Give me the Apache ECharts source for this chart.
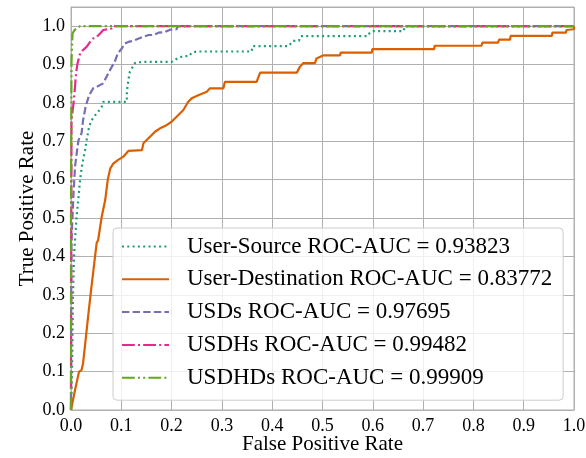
<!DOCTYPE html>
<html>
<head>
<meta charset="utf-8">
<script src="https://cdn.jsdelivr.net/npm/echarts@6/dist/echarts.min.js"></script>
<style>html,body{margin:0;padding:0;background:#fff}#c{width:586px;height:458px}</style>
</head>
<body>
<div id="c"></div>
<script>
const seriesNames = [
  'User-Source ROC-AUC = 0.93823',
  'User-Destination ROC-AUC = 0.83772',
  'USDs ROC-AUC = 0.97695',
  'USDHs ROC-AUC = 0.99482',
  'USDHDs ROC-AUC = 0.99909'
];
const xTicks = [0.0,0.1,0.2,0.3,0.4,0.5,0.6,0.7,0.8,0.9,1.0];
const yTicks = [0.0,0.1,0.2,0.3,0.4,0.5,0.6,0.7,0.8,0.9,1.0];

const userSource = [
  [0,0],[0.002,0.1],[0.004,0.3],[0.006,0.40],[0.008,0.443],[0.011,0.503],[0.015,0.555],[0.018,0.599],
  [0.022,0.638],[0.028,0.677],[0.031,0.703],[0.036,0.738],[0.041,0.755],[0.048,0.768],[0.054,0.777],
  [0.061,0.790],[0.064,0.803],[0.111,0.803],[0.111,0.829],[0.114,0.859],[0.117,0.881],[0.127,0.904],
  [0.141,0.907],[0.200,0.907],[0.213,0.917],[0.223,0.922],[0.235,0.922],[0.240,0.931],[0.250,0.934],
  [0.359,0.934],[0.361,0.948],[0.432,0.948],[0.442,0.962],[0.453,0.962],[0.457,0.974],[0.590,0.974],
  [0.594,0.983],[0.601,0.987],[0.661,0.987],[0.664,1.0],[1.0,1.0]
];
const userDest = [
  [0,0],[0.008,0.052],[0.016,0.10],[0.021,0.104],[0.024,0.122],[0.029,0.182],[0.034,0.243],[0.040,0.313],
  [0.047,0.391],[0.051,0.435],[0.054,0.443],[0.061,0.503],[0.068,0.547],[0.073,0.599],[0.078,0.629],
  [0.084,0.642],[0.093,0.651],[0.104,0.660],[0.114,0.675],[0.141,0.677],[0.144,0.695],[0.157,0.712],
  [0.167,0.725],[0.177,0.734],[0.190,0.742],[0.200,0.751],[0.210,0.764],[0.223,0.781],[0.233,0.803],
  [0.240,0.812],[0.253,0.820],[0.270,0.829],[0.276,0.838],[0.303,0.838],[0.306,0.855],[0.369,0.855],
  [0.376,0.879],[0.449,0.879],[0.455,0.894],[0.462,0.904],[0.485,0.904],[0.488,0.916],[0.502,0.924],
  [0.535,0.924],[0.536,0.931],[0.598,0.931],[0.599,0.940],[0.722,0.940],[0.723,0.949],[0.816,0.949],
  [0.818,0.957],[0.849,0.957],[0.851,0.965],[0.873,0.965],[0.874,0.975],[0.956,0.975],[0.957,0.983],
  [0.984,0.983],[0.985,0.990],[1.0,0.992],[1.0,1.0]
];
const usds = [
  [0,0],[0.0005,0.3],[0.001,0.443],[0.005,0.565],[0.008,0.634],[0.013,0.686],[0.015,0.703],[0.021,0.721],
  [0.024,0.755],[0.029,0.790],[0.031,0.794],[0.036,0.820],[0.044,0.838],[0.051,0.842],[0.064,0.851],
  [0.074,0.877],[0.081,0.894],[0.087,0.907],[0.093,0.929],[0.101,0.942],[0.107,0.955],[0.114,0.959],
  [0.124,0.962],[0.141,0.971],[0.154,0.977],[0.164,0.977],[0.174,0.983],[0.187,0.985],[0.197,0.991],
  [0.210,0.992],[0.212,1.0],[1.0,1.0]
];
const usdhs = [
  [0,0],[0.0005,0.45],[0.001,0.755],[0.005,0.799],[0.008,0.842],[0.010,0.877],[0.013,0.903],[0.018,0.929],
  [0.024,0.938],[0.031,0.946],[0.038,0.959],[0.044,0.968],[0.051,0.972],[0.058,0.981],[0.064,0.990],
  [0.081,0.994],[0.084,1.0],[1.0,1.0]
];
const usdhds = [
  [0,0],[0,0.5],[0.001,0.911],[0.003,0.981],[0.007,0.990],[0.011,0.994],[0.018,1.0],[1.0,1.0]
];

const colors = ['#1b9e77','#d95f02','#7570b3','#e7298a','#66a61e'];
const dashes = [[2,3.3],'solid',[7.4,3.2],[12.8,3.2,2,3.2],[12.8,3.2,2,3.2,2,3.2]];
const datas = [userSource, userDest, usds, usdhs, usdhds];

const chart = echarts.init(document.getElementById('c'), null, {renderer:'canvas'});
const FONT = '"Liberation Serif", "Times New Roman", serif';
const fmt = v => (Math.round(v*10)/10).toFixed(1);
chart.setOption({
  animation: false,
  textStyle: {fontFamily: FONT},
  grid: {left: 71, right: 12, top: 7, bottom: 48, show: true, borderColor: '#b0b0b0', borderWidth: 1,
    outerBoundsMode: 'none', containLabel: false},
  xAxis: {
    type: 'value', min: 0, max: 1, interval: 0.1,
    name: 'False Positive Rate', nameLocation: 'middle', nameGap: 24, nameMoveOverlap: false,
    nameTextStyle: {fontFamily: FONT, fontSize: 21, color: '#000'},
    axisLine: {show: true, lineStyle: {color: '#b0b0b0'}},
    axisTick: {show: false},
    axisLabel: {fontFamily: FONT, fontSize: 18, color: '#000', margin: 7, formatter: fmt},
    splitLine: {show: true, lineStyle: {color: '#b0b0b0', width: 1}}
  },
  yAxis: {
    type: 'value', min: 0, max: 1.05, interval: 0.1,
    name: 'True Positive Rate', nameLocation: 'middle', nameGap: 33, nameRotate: 90, nameMoveOverlap: false,
    nameTextStyle: {fontFamily: FONT, fontSize: 21, color: '#000'},
    axisLine: {show: true, lineStyle: {color: '#b0b0b0'}},
    axisTick: {show: false},
    axisLabel: {fontFamily: FONT, fontSize: 18, color: '#000', margin: 6, showMaxLabel: false,
      formatter: v => v > 1.001 ? '' : fmt(v)},
    splitLine: {show: true, lineStyle: {color: '#b0b0b0', width: 1}}
  },
  legend: {
    orient: 'vertical', left: 113, top: 228,
    padding: [7, 11, 11, 8],
    itemWidth: 47, itemHeight: 14, itemGap: 9.8,
    backgroundColor: 'rgba(255,255,255,0.8)',
    borderColor: '#cccccc', borderWidth: 1, borderRadius: 4,
    itemStyle: {opacity: 0},
    textStyle: {fontFamily: FONT, fontSize: 23, lineHeight: 23, color: '#000', padding: [0,0,0,13]},
    data: seriesNames
  },
  series: datas.map((d, i) => ({
    name: seriesNames[i], type: 'line', data: d, symbol: 'none', showSymbol: false,
    smooth: false, z: 2 + i,
    lineStyle: {color: colors[i], width: 2.2, type: dashes[i]},
    itemStyle: {color: colors[i]}
  }))
});
</script>
</body>
</html>
